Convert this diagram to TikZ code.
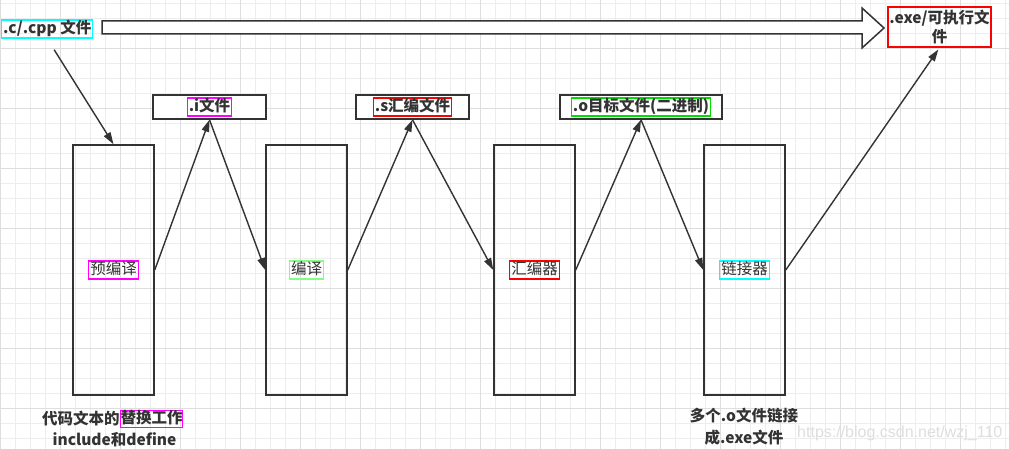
\documentclass[tikz,border=0pt]{standalone}
\usepackage{fontspec}
\setmainfont{Noto Sans CJK SC}
\newfontfamily\wmfont{Liberation Sans}
\usetikzlibrary{arrows.meta}
\definecolor{ink}{HTML}{333333}
\definecolor{gridminor}{HTML}{EDEDED}
\definecolor{gridmajor}{HTML}{DEDEDE}
\definecolor{cyanbox}{HTML}{00FFFF}
\definecolor{magbox}{HTML}{FF00FF}
\definecolor{grnbox}{HTML}{00DD00}
\definecolor{lgrnbox}{HTML}{80FF80}
\definecolor{redbox}{HTML}{FF0000}
\tikzset{
  txt/.style={text=ink, font=\fontsize{15.5}{18}\selectfont\bfseries},
  lbl/.style={draw=#1, line width=1.4pt, inner xsep=1.5pt, inner ysep=1.5pt,
              text height=12pt, text depth=3pt, txt},
  plbl/.style={lbl=#1, font=\fontsize{15.5}{18}\selectfont},
  topbox/.style={draw=ink, line width=1.5pt, minimum height=24pt, fill=white},
  stage/.style={draw=ink, line width=1.5pt, minimum width=81pt, minimum height=250pt},
  conn/.style={draw=ink, line width=1.4pt, -{Triangle[length=12pt,width=7.5pt]}},
}
\begin{document}
\begin{tikzpicture}[x=1pt,y=-1pt]
\useasboundingbox (0,0) rectangle (1009,449);
\fill[white] (0,0) rectangle (1009,449);
% grid
\foreach \k in {0,...,67} {\draw[gridminor, line width=0.8pt] ({15*\k},0) -- ({15*\k},449);}
\foreach \k in {0,...,30} {\draw[gridminor, line width=0.8pt] (0,{3+15*\k}) -- (1009,{3+15*\k});}
\foreach \k in {0,...,16} {\draw[gridmajor, line width=0.8pt] ({60*\k},0) -- ({60*\k},449);}
\foreach \k in {0,...,7} {\draw[gridmajor, line width=0.8pt] (0,{48+60*\k}) -- (1009,{48+60*\k});}

% source and target
\node[lbl=cyanbox, anchor=west] (c) at (1,29) {.c/.cpp 文件};
\node[draw=redbox, line width=1.5pt, minimum width=103pt, minimum height=40pt, inner sep=0pt,
      txt, align=center, font=\fontsize{15.5}{19}\selectfont\bfseries] (exe) at (939.5,27) {.exe/可执行文\\件};

% big hollow arrow
\draw[ink, line width=1.5pt, fill=white, line join=miter]
  (102,21) -- (862,21) -- (862,8) -- (884,28) -- (862,48) -- (862,34) -- (102,34) -- cycle;

% top intermediate files
\node[topbox, minimum width=113pt] (ibox) at (209.5,107) {};
\node[lbl=magbox] (itxt) at (ibox) {.i文件};
\node[topbox, minimum width=113pt] (sbox) at (412.5,107) {};
\node[lbl=redbox] (stxt) at (sbox) {.s汇编文件};
\node[topbox, minimum width=162pt] (obox) at (641,107) {};
\node[lbl=grnbox] (otxt) at (obox) {.o目标文件(二进制)};

% stages
\node[stage] (pre) at (113.5,270) {};
\node[plbl=magbox] (pretxt) at (pre) {预编译};
\node[stage] (comp) at (306.5,270) {};
\node[plbl=lgrnbox] (comptxt) at (comp) {编译};
\node[stage] (asm) at (534.5,270) {};
\node[plbl=redbox] (asmtxt) at (asm) {汇编器};
\node[stage] (link) at (744.5,270) {};
\node[plbl=cyanbox] (linktxt) at (link) {链接器};

% connectors
\draw[conn, shorten <=13pt] (c.south) -- (pre.north);
\draw[conn] (pre.east) -- (ibox.south);
\draw[conn] (ibox.south) -- (comp.west);
\draw[conn] (comp.east) -- (sbox.south);
\draw[conn] (sbox.south) -- (asm.west);
\draw[conn] (asm.east) -- (obox.south);
\draw[conn] (obox.south) -- (link.west);
\draw[conn, shorten >=2pt] (link.east) -- (exe.south);

% notes
\node[txt, anchor=west, inner sep=0pt] (note1a) at (42,419) {代码文本的};
\node[lbl=magbox, anchor=west, inner xsep=0pt, inner ysep=1pt] (note1b) at (note1a.east) {替换工作};
\node[txt, inner sep=0pt] (note1c) at (114.5,440) {include和define};
\node[txt, inner sep=0pt] (note2a) at (744,416) {多个.o文件链接};
\node[txt, inner sep=0pt] (note2b) at (744,438) {成.exe文件};

% watermark
\node[text=black!13, font=\wmfont\fontsize{16}{18}\selectfont, anchor=west, inner sep=0pt] (wm) at (797,433) {https://blog.csdn.net/wzj\_110};
\end{tikzpicture}
\end{document}
